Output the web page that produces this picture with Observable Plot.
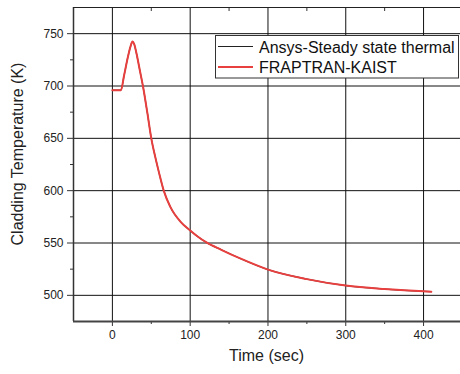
<!DOCTYPE html>
<html><head><meta charset="utf-8">
<script src="https://cdn.jsdelivr.net/npm/d3@7"></script>
<script src="https://cdn.jsdelivr.net/npm/@observablehq/plot@0.6"></script>
<style>
html,body{margin:0;padding:0;background:#fff;}
#chart{width:460px;height:374px;}
</style></head>
<body><div id="chart"></div>
<script>
const time = [0, 11, 15, 20, 23, 25, 26, 28, 31, 35, 39.5, 45, 50, 55, 60, 66, 74.5, 88, 100, 110, 121, 140, 165, 200, 250, 300, 350, 400, 410];
const ansys = [696, 696, 710, 728, 737, 741.5, 742.5, 740, 731, 716, 699, 674, 650, 632.5, 617, 600, 584.5, 570, 562, 556, 550.5, 543.5, 535, 524.6, 515.5, 509.3, 506, 503.8, 503.5];
const fraptran = [696, 696, 710, 728, 737, 741.5, 742.5, 740, 731, 716, 699, 674, 650, 632.5, 617, 600, 584.5, 570, 562, 556, 550.5, 543.5, 535, 524.6, 515.5, 509.3, 506, 503.8, 503.5];
const seriesNames = ["Ansys-Steady state thermal", "FRAPTRAN-KAIST"];
const seriesColors = ["#222222", "#e8403f"];
const xMajor = [0, 100, 200, 300, 400];
const xMinor = [50, 150, 250, 350];
const yMajor = [500, 550, 600, 650, 700, 750];
const yMinor = [525, 575, 625, 675, 725];
const xLabel = "Time (sec)";
const yLabel = "Cladding Temperature (K)";

const dataA = time.map((t, i) => ({t, v: ansys[i]}));
const dataF = time.map((t, i) => ({t, v: fraptran[i]}));

const W = 460, H = 374;
const chart = Plot.plot({
  width: W, height: H,
  marginLeft: 73, marginRight: 0, marginTop: 7, marginBottom: 53,
  style: {fontFamily: "'Liberation Sans', Arial, sans-serif", fontSize: "12px", background: "#fff", color: "#222"},
  x: {domain: [-50, 447.5]},
  y: {domain: [475, 775]},
  marks: [
    Plot.ruleX(xMajor, {stroke: "#111", strokeWidth: 1}),
    Plot.ruleY(yMajor, {stroke: "#111", strokeWidth: 1}),
    Plot.axisX({ticks: xMajor, tickSize: 5, tickPadding: 4, label: null, fontSize: 12, stroke: "#333"}),
    Plot.axisX({ticks: xMinor, tickSize: 3, text: null, label: null, stroke: "#333"}),
    Plot.axisX({anchor: "top", ticks: xMinor, tickSize: -3, text: null, label: null, stroke: "#333"}),
    Plot.axisY({ticks: yMajor, tickSize: 6, tickPadding: 4, label: null, fontSize: 12, stroke: "#333"}),
    Plot.axisY({ticks: yMinor, tickSize: 3, text: null, label: null, stroke: "#333"}),
    Plot.ruleX([-50], {stroke: "#333", strokeWidth: 1.5}),
    Plot.ruleY([475], {stroke: "#444", strokeWidth: 1.8}),
    Plot.ruleY([775], {stroke: "#222", strokeWidth: 1.2}),
    Plot.line(dataA, {x: "t", y: "v", stroke: seriesColors[0], strokeWidth: 1.2, curve: "monotone-x"}),
    Plot.line(dataF, {x: "t", y: "v", stroke: seriesColors[1], strokeWidth: 2, curve: "monotone-x"})
  ]
});
document.getElementById("chart").appendChild(chart);

const svg = d3.select(chart);
svg.append("text")
  .attr("x", 266.5).attr("y", 361)
  .attr("text-anchor", "middle")
  .attr("font-size", 16).attr("fill", "#222")
  .text(xLabel);
svg.append("text")
  .attr("transform", "translate(23,154) rotate(-90)")
  .attr("text-anchor", "middle")
  .attr("font-size", 16).attr("fill", "#222")
  .text(yLabel);

const lg = svg.append("g");
lg.append("rect").attr("x", 215.5).attr("y", 35.5).attr("width", 243).attr("height", 42.5)
  .attr("fill", "#fff").attr("stroke", "#333").attr("stroke-width", 1);
seriesNames.forEach((name, i) => {
  const yy = 46.5 + i * 20.5;
  lg.append("line").attr("x1", 218).attr("x2", 253).attr("y1", yy).attr("y2", yy)
    .attr("stroke", seriesColors[i]).attr("stroke-width", i === 1 ? 2 : 1.2);
  lg.append("text").attr("x", 259).attr("y", yy + 6)
    .attr("text-anchor", "start")
    .attr("font-size", 16).attr("fill", "#111").text(name);
});
</script>
</body></html>
